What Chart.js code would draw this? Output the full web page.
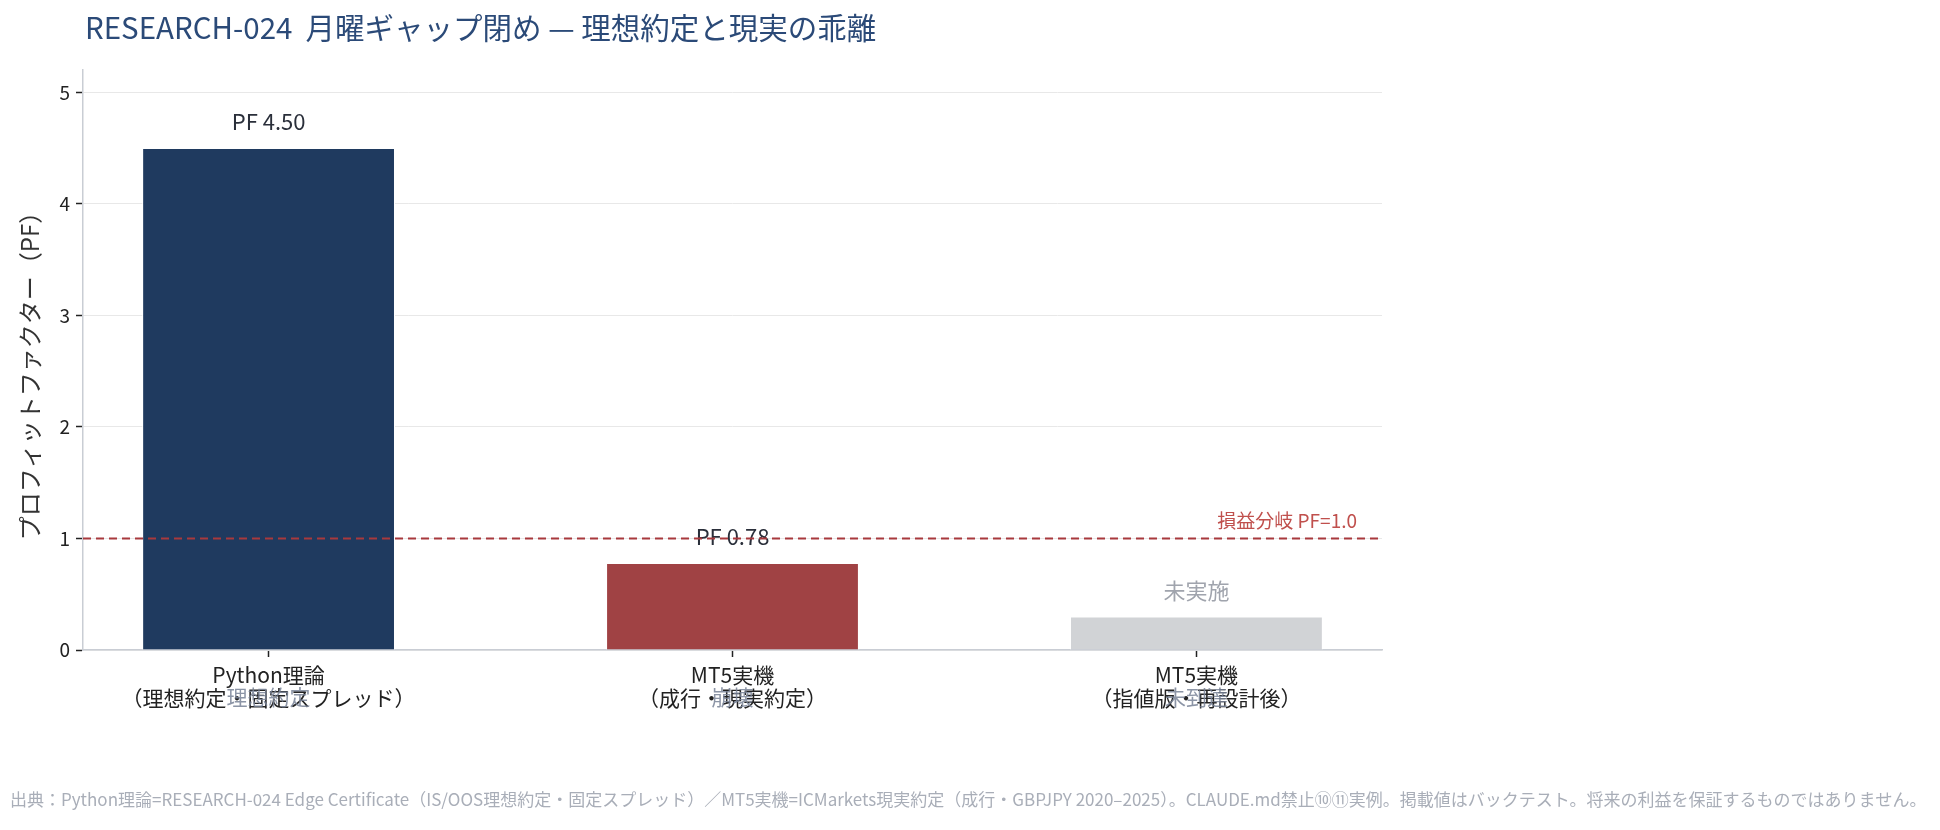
<!DOCTYPE html>
<html>
<head>
<meta charset="utf-8">
<script src="https://cdn.jsdelivr.net/npm/chart.js@4"></script>
<style>
  html, body { margin: 0; padding: 0; background: #fff; }
  #wrap { width: 1940px; height: 830px; }
</style>
</head>
<body>
<div id="wrap"><canvas id="pfChart" width="1940" height="830"></canvas></div>
<script>
// chart data
const categories = [
    ['Python理論', '（理想約定・固定スプレッド）'],
    ['MT5実機', '（成行・現実約定）'],
    ['MT5実機', '（指値版・再設計後）']
];
const pfValues = [4.50, 0.78, 0.30];
const valueLabels = ['PF 4.50', 'PF 0.78', '未実施'];
const subNotes = ['理想約定', '崩壊', '未到達'];
const barColors = ['#1f3a5f', '#a04244', '#d1d3d6'];
const yTicks = [0, 1, 2, 3, 4, 5];
const breakEven = 1.0;

const titleText = 'RESEARCH-024  月曜ギャップ閉め — 理想約定と現実の乖離';
const yTitleText = 'プロフィットファクター（PF）';
const breakEvenText = '損益分岐 PF=1.0';
const footerText = '出典：Python理論=RESEARCH-024 Edge Certificate（IS/OOS理想約定・固定スプレッド）／MT5実機=ICMarkets現実約定（成行・GBPJPY 2020–2025）。CLAUDE.md禁止⑩⑪実例。掲載値はバックテスト。将来の利益を保証するものではありません。';

const FONT = '"Noto Sans CJK JP", "Noto Sans", sans-serif';
Chart.defaults.font.family = FONT;

const decorPlugin = {
    id: 'decor',
    afterDraw(chart) {
        const ctx = chart.ctx;
        const area = chart.chartArea;
        const xs = chart.scales.x;
        const ys = chart.scales.y;
        ctx.save();

        // title
        ctx.fillStyle = '#2b4a78';
        ctx.font = '29.5px ' + FONT;
        ctx.textAlign = 'left';
        ctx.textBaseline = 'middle';
        ctx.fillText(titleText, 85, 28);

        // y title
        ctx.save();
        ctx.translate(30, 370);
        ctx.rotate(-Math.PI / 2);
        ctx.fillStyle = '#333';
        ctx.font = '24px ' + FONT;
        ctx.textAlign = 'center';
        ctx.fillText(yTitleText, 0, 0);
        ctx.restore();

        // value labels above bars
        pfValues.forEach((v, i) => {
            const x = xs.getPixelForValue(i);
            const y = ys.getPixelForValue(v);
            ctx.fillStyle = i === 2 ? '#a0a4ad' : '#2a2f3a';
            ctx.font = '22px ' + FONT;
            ctx.textAlign = 'center';
            ctx.fillText(valueLabels[i], x, y - 26);
        });

        // grey notes (overlap second tick line)
        subNotes.forEach((t, i) => {
            const x = xs.getPixelForValue(i);
            ctx.fillStyle = 'rgba(120,130,150,0.85)';
            ctx.font = '21px ' + FONT;
            ctx.textAlign = 'center';
            ctx.fillText(t, x, area.bottom + 47);
        });

        // break-even line
        const yb = ys.getPixelForValue(breakEven);
        ctx.strokeStyle = '#a8393d';
        ctx.lineWidth = 2;
        ctx.setLineDash([8, 5]);
        ctx.beginPath();
        ctx.moveTo(area.left, yb);
        ctx.lineTo(area.right, yb);
        ctx.stroke();
        ctx.setLineDash([]);
        ctx.fillStyle = '#c0504d';
        ctx.font = '19px ' + FONT;
        ctx.textAlign = 'right';
        ctx.fillText(breakEvenText, area.right - 25, yb - 18);

        // footer
        ctx.fillStyle = '#a9aeb8';
        ctx.font = '17px ' + FONT;
        ctx.textAlign = 'left';
        ctx.fillText(footerText, 10, 800);

        ctx.restore();
    }
};

new Chart(document.getElementById('pfChart').getContext('2d'), {
    type: 'bar',
    data: {
        datasets: [{
            data: pfValues.map((v, i) => ({ x: i, y: v })),
            backgroundColor: barColors,
            borderColor: '#ffffff',
            borderWidth: 1,
            categoryPercentage: 1,
            barPercentage: 0.545
        }]
    },
    options: {
        responsive: false,
        animation: false,
        layout: { padding: { left: 23, right: 558, top: 70, bottom: 100 } },
        plugins: { legend: { display: false }, tooltip: { enabled: false } },
        scales: {
            x: {
                type: 'linear',
                min: -0.4,
                max: 2.4,
                offset: false,
                afterBuildTicks: s => { s.ticks = categories.map((c, i) => ({ value: i })); },
                afterFit: s => { s.height = 80; },
                grid: { offset: false, drawOnChartArea: false, drawTicks: true, tickLength: 7, tickColor: '#222', tickWidth: 1.5 },
                border: { color: '#c9cdd4', width: 1.5 },
                ticks: {
                    padding: 7,
                    color: '#222',
                    font: { size: 21, lineHeight: 1.08 },
                    maxRotation: 0,
                    autoSkip: false,
                    callback: v => categories[v] || ''
                }
            },
            y: {
                min: 0,
                max: 5.2,
                afterBuildTicks: s => { s.ticks = yTicks.map(v => ({ value: v })); },
                afterFit: s => { s.width = 60; },
                grid: { color: '#e8e8e8', lineWidth: 1, tickLength: 7, tickColor: '#222', tickWidth: 1.5 },
                border: { color: '#c9cdd4', width: 1.5 },
                ticks: { padding: 6, color: '#222', font: { size: 19 } }
            }
        }
    },
    plugins: [decorPlugin]
});
</script>
</body>
</html>
